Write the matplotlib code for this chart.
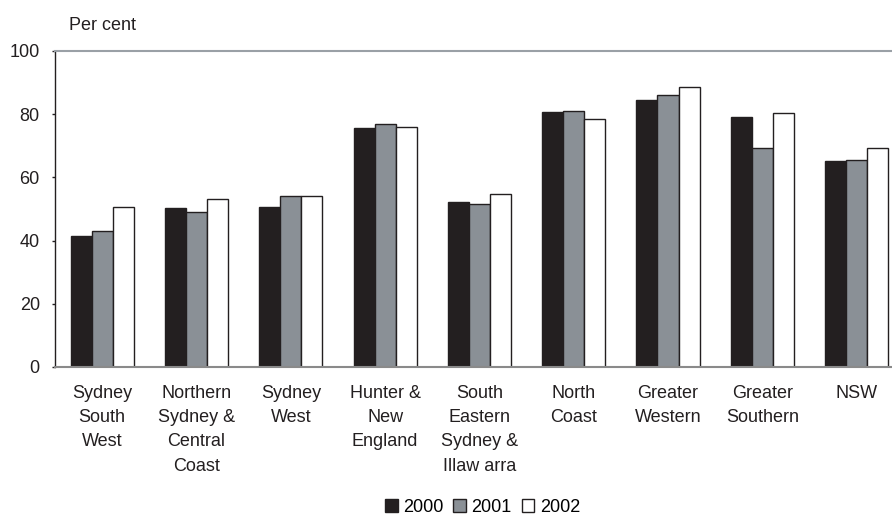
import numpy as np
import matplotlib.pyplot as plt

plt.rcParams['font.family'] = ['Liberation Sans', 'DejaVu Sans']

regions = ['Sydney\nSouth\nWest', 'Northern\nSydney &\nCentral\nCoast', 'Sydney\nWest',
           'Hunter &\nNew\nEngland', 'South\nEastern\nSydney &\nIllaw arra', 'North\nCoast',
           'Greater\nWestern', 'Greater\nSouthern', 'NSW']
y2000 = [41.4, 50.2, 50.7, 75.6, 52.3, 80.6, 84.4, 79.1, 65.2]
y2001 = [42.9, 49.1, 54.1, 76.9, 51.6, 81.1, 86.2, 69.2, 65.5]
y2002 = [50.6, 53.1, 54.1, 75.9, 54.8, 78.6, 88.7, 80.5, 69.2]
years = ['2000', '2001', '2002']
colors = ['#231f20', '#8a9096', '#ffffff']

fig = plt.figure(figsize=(8.92, 5.14), dpi=100)
# the plot area runs a little past the right edge, as in the original crop
ax = fig.add_axes([0.0617, 0.286, 0.9515, 0.615])

x = np.arange(len(regions))
w = 0.223
for i, (vals, c, lab) in enumerate(zip([y2000, y2001, y2002], colors, years)):
    ax.bar(x + (i - 1) * w, vals, w, color=c, edgecolor='#231f20', linewidth=1.0, label=lab)

ax.set_xlim(-0.5, len(regions) - 0.5)
ax.set_ylim(0, 100)
ax.set_yticks(range(0, 101, 20))
ax.set_xticks(x)
ax.set_xticklabels(regions, fontsize=13, linespacing=1.55, va='top', color='#231f20')
ax.tick_params(axis='x', length=0, pad=13)
ax.tick_params(axis='y', labelsize=13, direction='out', length=2.5, width=1,
               color='#231f20', labelcolor='#231f20', pad=8.5)

ax.spines['right'].set_visible(False)
ax.spines['top'].set_color('#9aa0a6')
ax.spines['top'].set_linewidth(1.5)
ax.spines['bottom'].set_color('#8a8a8a')
ax.spines['bottom'].set_linewidth(1.5)
ax.spines['left'].set_color('#231f20')
ax.spines['left'].set_linewidth(1.0)

fig.text(0.077, 1 - 25 / 514, 'Per cent', fontsize=13, va='center', ha='left', color='#231f20')

fig.legend(*ax.get_legend_handles_labels(), loc='center', bbox_to_anchor=(0.541, 1 - 507 / 514),
           ncol=3, frameon=False, fontsize=13, handlelength=0.7, handleheight=0.7,
           handletextpad=0.3, columnspacing=0.55, borderpad=0, borderaxespad=0)

fig.savefig('out.png', dpi=100)
